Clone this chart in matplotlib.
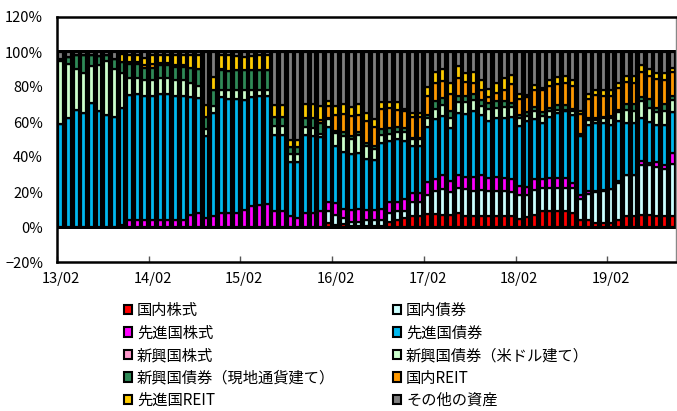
import numpy as np
import matplotlib
matplotlib.use("Agg")
import matplotlib.pyplot as plt
from matplotlib.patches import Patch

plt.rcParams['font.family'] = ['Noto Sans CJK JP', 'DejaVu Sans']

# monthly bars, 13/02 .. 19/10
n_months = 81
year_ticks = [0, 12, 24, 36, 48, 60, 72]
year_labels = ['13/02', '14/02', '15/02', '16/02', '17/02', '18/02', '19/02']

# composition in %, bottom to top
dom_stock = [0, 0, 0, 0, 0, 0, 0, 0, 0, 0,
             0, 0, 0, 0, 0, 0, 0, 0, 0, 0,
             0, 0, 0, 0, 0, 0, 0, 0, 0, 0,
             0, 0, 0, 0, 0, 2, 1, 1.5, 0.5, 0.5,
             0.5, 0.5, 0.5, 3, 4, 5, 6.5, 6.5, 7.5, 7.5,
             7, 7, 8, 6.5, 6.5, 6.5, 6.5, 6.5, 6.5, 6.5,
             4.5, 5.5, 7, 9, 9, 9, 9, 8, 4, 4,
             2, 2, 2, 4, 6.5, 6.5, 7, 7, 6, 6,
             6.5]
dom_bond = [0, 0, 0, 0, 0, 0, 0, 0, 0, 0,
            0, 0, 0, 0, 0, 0, 0, 0, 0, 0,
            0, 0, 0, 0, 0, 0, 0, 0, 0, 0,
            0, 0, 0, 0, 0, 7, 6, 3.5, 2.5, 2.5,
            3.5, 3.5, 3.5, 5, 5, 4, 8, 8, 11, 13,
            14.5, 13, 14, 15, 14, 14.5, 14, 14, 14, 13.5,
            14, 13, 14, 13.5, 13, 13, 13.5, 14, 12, 15,
            18, 18.5, 19.5, 21, 23, 23, 28.5, 28.5, 28.5, 27,
            29.5]
dev_stock = [0, 0, 0, 0, 0, 0, 0, 0, 1, 4,
             4, 4, 4, 4, 4, 4, 4, 7, 8, 5,
             6, 8, 8, 8, 9.5, 12, 12.5, 13, 9, 9,
             6, 5, 8, 8, 9, 5.5, 6.5, 5, 6.5, 7,
             5.5, 5.5, 6.5, 6, 5.5, 7, 5, 5, 7, 7,
             8, 6, 7.5, 7, 8, 8.5, 7.5, 8, 7.5, 7.5,
             5, 4.5, 6.5, 5, 6, 6, 5.5, 3, 2, 1.5,
             0.5, 0.5, 0, 1, 0, 0, 2, 1, 2.5, 2.5,
             6]
dev_bond = [59, 62, 67, 65, 71, 66, 64, 63, 67, 71.5,
            72, 71, 71, 72, 72, 71, 71, 67.5, 65.5, 47,
            59, 66.5, 65, 65, 63, 62.5, 62.5, 62, 43.5, 43.5,
            31, 32, 44.5, 44, 42.5, 42.5, 33, 33, 32, 32.5,
            29.5, 28.5, 37.5, 35, 35.5, 33, 26.5, 26.5, 31.5, 34,
            34, 30.5, 35.5, 36, 38, 34.5, 32.5, 34, 34.5, 35.5,
            34, 37.5, 34, 32, 35, 37, 38, 39, 34, 38,
            39, 38.5, 37, 34.5, 30, 30, 25, 23.5, 21.5, 23,
            23.5]
em_stock = [0] * n_months
em_bond_usd = [36, 31, 23, 23, 21, 26.5, 31, 27, 20, 9.5,
               9, 9, 9, 9, 9, 9, 9, 7.5, 7, 4,
               4, 4, 5, 5.5, 6, 4, 3.5, 3.5, 5, 5,
               4.5, 4.5, 4.5, 4.5, 1.5, 4.5, 7, 9, 9, 10,
               7.5, 6.5, 4.5, 4, 4.5, 5.5, 4, 4, 5.5, 6,
               6, 6, 6.5, 7, 6, 5, 7, 5.5, 6, 5.5,
               4.5, 3, 5, 4, 3.5, 2, 1, 2, 0.5, 2.5,
               1.5, 2.5, 3.5, 5, 7.5, 6.5, 9.5, 8, 7, 7.5,
               7]
em_bond_local = [1, 4, 8, 10, 6, 5, 3, 6, 6, 8,
                 8, 7, 7, 7.5, 7.5, 7.5, 7.5, 9, 9.5, 7,
                 9.5, 11, 11, 11, 11, 11, 11, 11, 5.5, 5.5,
                 4, 4, 5.5, 6, 6.5, 0.5, 1.5, 2, 1.5, 1.5,
                 1.5, 1.5, 3.5, 3.5, 2.5, 2, 1, 1, 1.5, 4.5,
                 4, 3.5, 3.5, 3.5, 3.5, 3.5, 3.5, 4, 3.5, 2.5,
                 2, 2, 2, 2, 1.5, 2.5, 2.5, 1.5, 0.5, 1,
                 1, 1, 1.5, 1.5, 3.5, 4, 2.5, 5, 2.5, 4,
                 2.5]
dom_reit = [0, 0, 0, 0, 0, 0, 0, 0, 0, 1,
            1, 1.5, 2, 1, 1, 1, 1, 0, 0, 0,
            0, 0.5, 0, 0, 0, 0, 0, 0, 0, 0,
            0, 0, 0, 0, 1.5, 7, 9, 10.5, 11.5, 10,
            12.5, 11, 11.5, 11.5, 10, 9.5, 12, 12, 11, 10.5,
            10, 10, 10, 8, 6.5, 5.5, 3.5, 4.5, 6.5, 10.5,
            9, 8.5, 10, 12.5, 12.5, 12, 12.5, 13, 11.5, 11,
            13.5, 12, 11.5, 12.5, 12.5, 12.5, 14, 13.5, 16.5, 14,
            13.5]
dev_reit = [0, 0, 0, 0, 0, 0, 0, 0, 5, 4.5,
            4.5, 4, 5.5, 5, 5, 5.5, 5.5, 7, 8, 6.5,
            7, 8.5, 9, 8, 7.5, 8, 8.5, 8.5, 6.5, 6.5,
            4, 4, 7.5, 7.5, 8, 3, 5, 6, 5, 6.5,
            4.5, 4.5, 4, 3.5, 4.5, 1.5, 2, 2, 5, 6,
            6.5, 6.5, 7, 5, 6, 6, 4.5, 5.5, 6.5, 5.5,
            3, 1.5, 2.5, 1.5, 3.5, 4, 4, 3.5, 1.5, 3,
            3, 3, 3, 2.5, 3, 3.5, 4, 4, 3.5, 4,
            2.5]
other = [4, 3, 2, 2, 2, 2.5, 2, 4, 1, 1.5,
         1.5, 3.5, 1.5, 1.5, 1.5, 2, 2, 2, 2, 30.5,
         14.5, 1.5, 2, 2.5, 3, 2.5, 2, 2, 30.5, 30.5,
         50.5, 50.5, 30, 30, 31, 28, 31, 29.5, 31.5, 29.5,
         35, 38.5, 28.5, 28.5, 28.5, 32.5, 35, 35, 20, 11.5,
         10, 17.5, 8, 12, 11.5, 16, 21, 18, 15, 13,
         24, 24.5, 19, 20.5, 16, 14.5, 14, 16, 34, 24,
         21.5, 22, 22, 18, 14, 14, 7.5, 9.5, 12, 12,
         9]

names = ['国内株式', '国内債券', '先進国株式', '先進国債券', '新興国株式',
         '新興国債券（米ドル建て）', '新興国債券（現地通貨建て）', '国内REIT',
         '先進国REIT', 'その他の資産']
series = [dom_stock, dom_bond, dev_stock, dev_bond, em_stock,
          em_bond_usd, em_bond_local, dom_reit, dev_reit, other]
colors = ['#FF0000', '#CCFFFF', '#FF00FF', '#00B8EE', '#FF99CC',
          '#CCFFCC', '#2F8A57', '#FF9900', '#FFCC00', '#7F7F7F']

fig = plt.figure(figsize=(6.77, 4.11), dpi=100)
ax = fig.add_axes([57 / 677, 1 - 262 / 411, 619 / 677, 245 / 411])

x = np.arange(n_months) + 0.5
# dark backing behind the bars
ax.bar(x, np.full(n_months, 102.0), bottom=-1, width=1.0, color='black', zorder=1)
bottom = np.zeros(n_months)
for vals, c in zip(series, colors):
    vals = np.array(vals, dtype=float)
    ax.bar(x, vals, bottom=bottom, width=0.64, color=c, edgecolor='black',
           linewidth=1.6, zorder=2)
    bottom += vals

ax.set_xlim(0, n_months)
ax.set_ylim(-20, 120)
yt = np.arange(-20, 121, 20)
ax.set_yticks(yt)
ax.set_yticklabels([f'{v}%'.replace('-', '−') for v in yt], fontsize=10.5)
ax.tick_params(axis='y', length=0, pad=10)

ax.set_xticks(year_ticks)
ax.set_xticklabels([])
ax.tick_params(axis='x', which='major', direction='in', length=4, width=1, color='#555555')
ax.set_xticks([t + 0.5 for t in year_ticks], minor=True)
ax.set_xticklabels(year_labels, minor=True, fontsize=10.5)
ax.tick_params(axis='x', which='minor', length=0, pad=7)

for s in ['left', 'top', 'bottom']:
    ax.spines[s].set_linewidth(1.8)
    ax.spines[s].set_color('black')
ax.spines['right'].set_linewidth(1)
ax.spines['right'].set_color('#888888')

handles = [Patch(facecolor=c, edgecolor='black', linewidth=1.5) for c in colors]
col1 = [0, 2, 4, 6, 8]
col2 = [1, 3, 5, 7, 9]
for idx, xpos in [(col1, 124), (col2, 393)]:
    fig.legend([handles[i] for i in idx], [names[i] for i in idx],
               loc='upper left', bbox_to_anchor=(xpos / 677, 1 - 302 / 411),
               frameon=False, fontsize=11, borderpad=0, borderaxespad=0,
               handlelength=0.55, handleheight=0.55, handletextpad=0.3,
               labelspacing=0.36)

fig.savefig('out.png', dpi=100)
